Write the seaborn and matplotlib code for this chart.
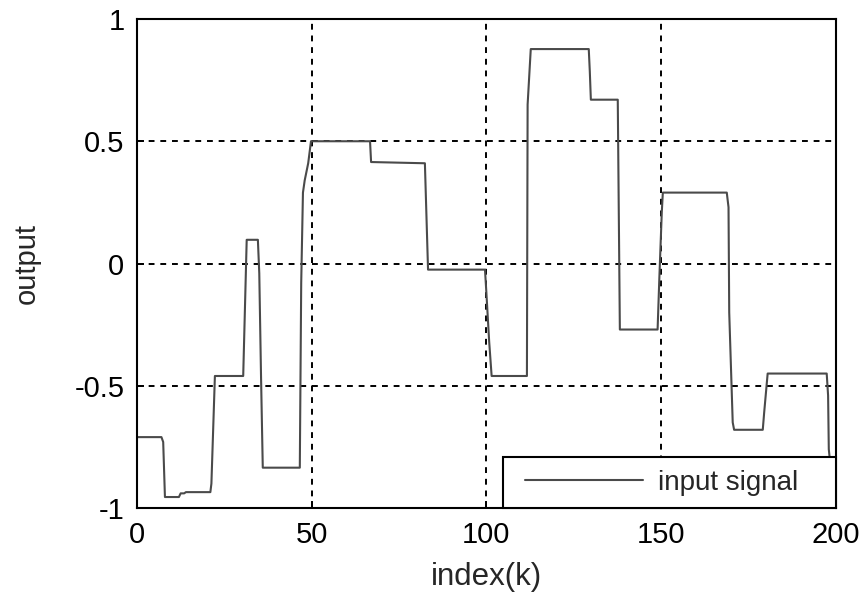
#%%
import pandas as pd
import seaborn as sns
import matplotlib
matplotlib.use("Agg")
import matplotlib.pyplot as plt
from matplotlib.legend_handler import HandlerLine2D

# %%
# breakpoints of the stepped input signal
k = [0, 7, 7.5, 8, 12, 12.5, 13.5, 14, 21, 21.3, 21.8, 22.3, 30.4, 31.4, 34.6, 35, 35.5, 36,
     46.6, 47, 47.5, 48, 49, 49.8, 66.7, 67, 82.4, 83.3, 99.6, 100, 100.8, 101.5, 111.6, 111.8,
     112.7, 129.3, 129.6, 129.9, 137.6, 137.8, 138.2, 149, 149.5, 150.2, 150.5, 168.8, 169.3,
     169.5, 170.5, 170.9, 179.1, 179.5, 180.5, 197.4, 197.8, 198, 199]
u = [-0.71, -0.71, -0.73, -0.955, -0.955, -0.94, -0.94, -0.935, -0.935, -0.9, -0.68, -0.46, -0.46,
     0.097, 0.097, -0.04, -0.46, -0.835, -0.835, -0.08, 0.29, 0.34, 0.41, 0.5, 0.5, 0.415, 0.41,
     -0.025, -0.025, -0.12, -0.32, -0.46, -0.46, 0.65, 0.877, 0.877, 0.785, 0.67, 0.67, 0.355,
     -0.27, -0.27, -0.06, 0.21, 0.29, 0.29, 0.23, -0.2, -0.65, -0.68, -0.68, -0.61, -0.45, -0.45,
     -0.54, -0.76, -0.9]

xticks = [0, 50, 100, 150, 200]
yticks = [-1, -0.5, 0, 0.5, 1]
yticklabels = ["-1", "-0.5", "0", "0.5", "1"]

df = pd.DataFrame({"index": k, "output": u})

#%%
sns.set_style("ticks")
plt.rcParams["font.family"] = ["Liberation Sans", "DejaVu Sans"]

fig = plt.figure(figsize=(8.67, 6.03), dpi=100)
ax = fig.add_axes([0.158, 0.1575, 0.806, 0.811])

sns.lineplot(data=df, x="index", y="output", sort=False, estimator=None,
             color="#4a4a4a", linewidth=1.5, label="input signal", ax=ax)

ax.set_xlim(0, 200)
ax.set_ylim(-1, 1)
ax.set_xticks(xticks)
ax.set_yticks(yticks)
ax.set_yticklabels(yticklabels)
ax.grid(True, color="black", linestyle=(0, (3, 3)), linewidth=1.4)
ax.tick_params(direction="in", length=5, width=1.4, labelsize=21, pad=9, colors="black")
for s in ax.spines.values():
    s.set_visible(True)
    s.set_color("black")
    s.set_linewidth(1.5)

ax.set_xlabel("index(k)", fontsize=22.5, labelpad=10)
ax.set_ylabel("output", fontsize=21, labelpad=24)

leg = ax.legend(loc="lower left", bbox_to_anchor=(0.5236, 0.0, 0.4764, 0.1186), mode="expand",
                borderaxespad=0, fancybox=False, framealpha=1, edgecolor="black",
                fontsize=20, handlelength=4.6, handletextpad=0.52, borderpad=0.45,
                handler_map={plt.Line2D: HandlerLine2D(xpad=0.36)})
leg.get_frame().set_linewidth(1.5)

plt.savefig("out.png", dpi=100)
